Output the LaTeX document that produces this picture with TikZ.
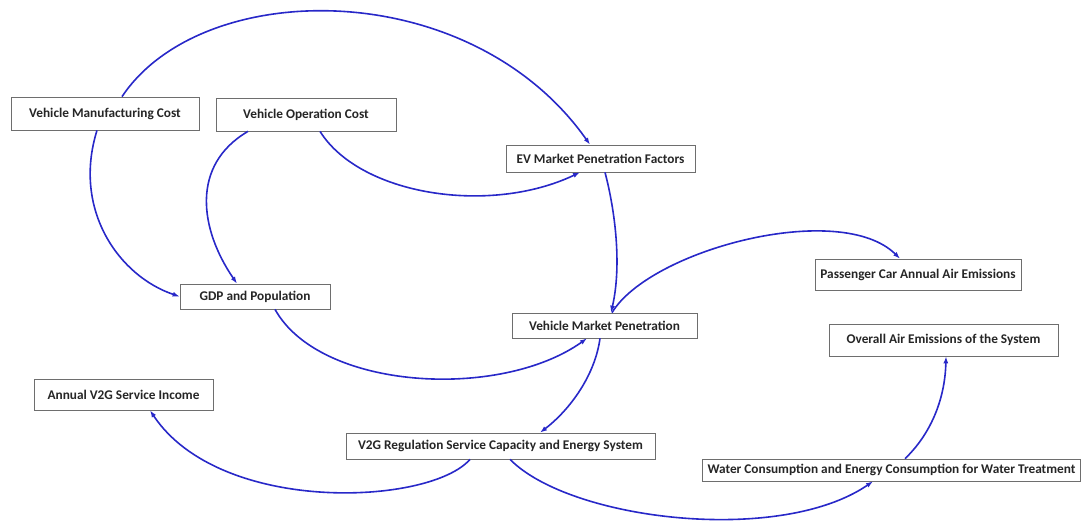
\documentclass[tikz,border=0pt]{standalone}
\usepackage{fontspec}
\setmainfont{Carlito}
\usetikzlibrary{arrows.meta}
\definecolor{linkblue}{RGB}{40,40,200}
\definecolor{boxgray}{RGB}{110,110,110}
\tikzset{
  box/.style={draw=boxgray, line width=0.7pt, fill=white, inner sep=1pt,
    font=\fontsize{13.3}{15}\selectfont\bfseries, text=black!85},
  link/.style={draw=linkblue, line width=1.6pt, -{Latex[length=7pt,width=5pt]}}
}
\begin{document}
\begin{tikzpicture}[x=1pt,y=-1pt]
\useasboundingbox (0,0) rectangle (1081,523);
\node[box, minimum width=188pt, minimum height=33pt] (vmc) at (105,113.5) {Vehicle Manufacturing Cost};
\node[box, minimum width=180pt, minimum height=33pt] (voc) at (306,114.5) {Vehicle Operation Cost};
\node[box, minimum width=189pt, minimum height=27pt] (ev) at (600.5,158.5) {EV Market Penetration Factors};
\node[box, minimum width=150pt, minimum height=25pt] (gdp) at (255,296.5) {GDP and Population};
\node[box, minimum width=185pt, minimum height=25pt] (vmp) at (604.5,325.5) {Vehicle Market Penetration};
\node[box, minimum width=206pt, minimum height=31pt] (pc) at (918,274.5) {Passenger Car Annual Air Emissions};
\node[box, minimum width=229pt, minimum height=32pt] (oae) at (943.5,340) {Overall Air Emissions of the System};
\node[box, minimum width=179pt, minimum height=31pt] (aic) at (123.5,394.5) {Annual V2G Service Income};
\node[box, minimum width=309pt, minimum height=26pt] (v2g) at (500.5,446) {V2G Regulation Service Capacity and Energy System};
\node[box, minimum width=378pt, minimum height=22pt] (wat) at (891.5,470) {Water Consumption and Energy Consumption for Water Treatment};

\draw[link] ([xshift=17pt]vmc.north) .. controls +(80,-120) and +(-120,-170) .. ([xshift=-10.5pt]ev.north);
\draw[link] ([xshift=-8pt]vmc.south) .. controls +(-25,80) and +(-60,-20) .. (gdp.west);
\draw[link] ([xshift=-58pt]voc.south) .. controls +(-58,34) and +(-37,-54) .. ([xshift=-18pt]gdp.north);
\draw[link] ([xshift=14pt]voc.south) .. controls +(40,64) and +(-90,43) .. ([xshift=-20.5pt]ev.south);
\draw[link] ([xshift=4.5pt]ev.south) .. controls +(10,38) and +(11,-48) .. ([xshift=6.5pt]vmp.north);
\draw[link] ([xshift=7.5pt]vmp.north) .. controls +(38,-63) and +(-60,-59) .. ([xshift=-18pt]pc.north);
\draw[link] ([xshift=20pt]gdp.south) .. controls +(45,81) and +(-87,62) .. ([xshift=-17.5pt]vmp.south);
\draw[link] ([xshift=-4.5pt]vmp.south) .. controls +(-5,37) and +(30,-23) .. ([xshift=39.5pt]v2g.north);
\draw[link] ([xshift=-30.5pt]v2g.south) .. controls +(-40,46) and +(70,105) .. ([xshift=26.5pt]aic.south);
\draw[link] ([xshift=9.5pt]v2g.south) .. controls +(60,61) and +(-93,64) .. ([xshift=-18.5pt]wat.south);
\draw[link] ([xshift=13.5pt]wat.north) .. controls +(25,-24) and +(-1,44) .. ([xshift=2.5pt]oae.south);
\end{tikzpicture}
\end{document}
